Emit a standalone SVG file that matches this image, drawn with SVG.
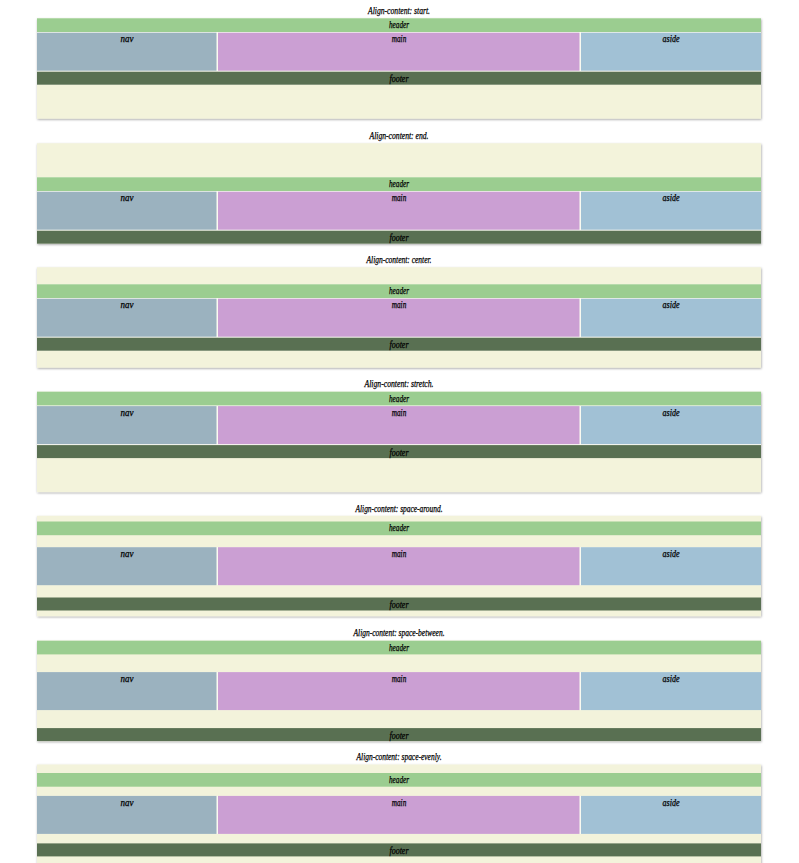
<svg xmlns="http://www.w3.org/2000/svg" width="799" height="863" viewBox="0 0 799 863">
  <defs>
    <filter id="shadow" x="-5%" y="-20%" width="110%" height="140%">
      <feDropShadow dx="0.5" dy="1" stdDeviation="1.3" flood-color="#000" flood-opacity="0.35"/>
    </filter>
    <style>
      .box { fill: #f3f3db; filter: url(#shadow); }
      .seam { fill: #fafaf1; }
      .hdr { fill: #9bcd90; }
      .nav { fill: #9bb2bf; }
      .main { fill: #cb9fd3; }
      .aside { fill: #a1c1d5; }
      .ftr { fill: #597052; }
      text { font-family: "Liberation Serif", "DejaVu Serif", serif; font-style: italic; font-size: 9.5px; fill: #000; stroke: #000; stroke-width: 0.25px; text-anchor: middle; transform: translate(0px, 1.5px); }
      .title { font-size: 10px; }
    </style>
  </defs>
  <rect width="799" height="863" fill="#ffffff"/>

  <!-- panel: start -->
  <g id="panel-start" transform="translate(0,18.3)">
    <text class="title" x="399" y="-5.8" textLength="62" lengthAdjust="spacingAndGlyphs">Align-content: start.</text>
    <rect class="box" x="37" y="0" width="724" height="100.4"/>
    <rect class="seam" x="37" y="0" width="724" height="66.4"/>
    <g id="start-header"><rect class="hdr" x="37" y="0" width="724" height="13.7"/><text x="399" y="8.4" textLength="20" lengthAdjust="spacingAndGlyphs">header</text></g>
    <g id="start-nav"><rect class="nav" x="37" y="14.4" width="179.5" height="38"/><text x="127" y="22.7" textLength="13" lengthAdjust="spacingAndGlyphs">nav</text></g>
    <g id="start-main"><rect class="main" x="218" y="14.4" width="361.5" height="38"/><text x="399" y="22.7" textLength="14.5" lengthAdjust="spacingAndGlyphs">main</text></g>
    <g id="start-aside"><rect class="aside" x="581" y="14.4" width="180" height="38"/><text x="671" y="22.7" textLength="17" lengthAdjust="spacingAndGlyphs">aside</text></g>
    <g id="start-footer"><rect class="ftr" x="37" y="53.4" width="724" height="13"/><text x="399" y="62.4" textLength="19" lengthAdjust="spacingAndGlyphs">footer</text></g>
  </g>

  <!-- panel: end -->
  <g id="panel-end" transform="translate(0,143.3)">
    <text class="title" x="399" y="-5.8" textLength="59" lengthAdjust="spacingAndGlyphs">Align-content: end.</text>
    <rect class="box" x="37" y="0" width="724" height="100.4"/>
    <rect class="seam" x="37" y="34" width="724" height="66.4"/>
    <g id="end-header"><rect class="hdr" x="37" y="34" width="724" height="13.7"/><text x="399" y="42.4" textLength="20" lengthAdjust="spacingAndGlyphs">header</text></g>
    <g id="end-nav"><rect class="nav" x="37" y="48.4" width="179.5" height="38"/><text x="127" y="56.7" textLength="13" lengthAdjust="spacingAndGlyphs">nav</text></g>
    <g id="end-main"><rect class="main" x="218" y="48.4" width="361.5" height="38"/><text x="399" y="56.7" textLength="14.5" lengthAdjust="spacingAndGlyphs">main</text></g>
    <g id="end-aside"><rect class="aside" x="581" y="48.4" width="180" height="38"/><text x="671" y="56.7" textLength="17" lengthAdjust="spacingAndGlyphs">aside</text></g>
    <g id="end-footer"><rect class="ftr" x="37" y="87.4" width="724" height="13"/><text x="399" y="96.4" textLength="19" lengthAdjust="spacingAndGlyphs">footer</text></g>
  </g>

  <!-- panel: center -->
  <g id="panel-center" transform="translate(0,267.3)">
    <text class="title" x="399" y="-5.8" textLength="65" lengthAdjust="spacingAndGlyphs">Align-content: center.</text>
    <rect class="box" x="37" y="0" width="724" height="100.4"/>
    <rect class="seam" x="37" y="17" width="724" height="66.4"/>
    <g id="center-header"><rect class="hdr" x="37" y="17" width="724" height="13.7"/><text x="399" y="25.4" textLength="20" lengthAdjust="spacingAndGlyphs">header</text></g>
    <g id="center-nav"><rect class="nav" x="37" y="31.4" width="179.5" height="38"/><text x="127" y="39.7" textLength="13" lengthAdjust="spacingAndGlyphs">nav</text></g>
    <g id="center-main"><rect class="main" x="218" y="31.4" width="361.5" height="38"/><text x="399" y="39.7" textLength="14.5" lengthAdjust="spacingAndGlyphs">main</text></g>
    <g id="center-aside"><rect class="aside" x="581" y="31.4" width="180" height="38"/><text x="671" y="39.7" textLength="17" lengthAdjust="spacingAndGlyphs">aside</text></g>
    <g id="center-footer"><rect class="ftr" x="37" y="70.4" width="724" height="13"/><text x="399" y="79.4" textLength="19" lengthAdjust="spacingAndGlyphs">footer</text></g>
  </g>

  <!-- panel: stretch -->
  <g id="panel-stretch" transform="translate(0,391.7)">
    <text class="title" x="399" y="-5.8" textLength="69" lengthAdjust="spacingAndGlyphs">Align-content: stretch.</text>
    <rect class="box" x="37" y="0" width="724" height="100.4"/>
    <rect class="seam" x="37" y="0" width="724" height="66.4"/>
    <g id="stretch-header"><rect class="hdr" x="37" y="0" width="724" height="13.7"/><text x="399" y="8.4" textLength="20" lengthAdjust="spacingAndGlyphs">header</text></g>
    <g id="stretch-nav"><rect class="nav" x="37" y="14.4" width="179.5" height="38"/><text x="127" y="22.7" textLength="13" lengthAdjust="spacingAndGlyphs">nav</text></g>
    <g id="stretch-main"><rect class="main" x="218" y="14.4" width="361.5" height="38"/><text x="399" y="22.7" textLength="14.5" lengthAdjust="spacingAndGlyphs">main</text></g>
    <g id="stretch-aside"><rect class="aside" x="581" y="14.4" width="180" height="38"/><text x="671" y="22.7" textLength="17" lengthAdjust="spacingAndGlyphs">aside</text></g>
    <g id="stretch-footer"><rect class="ftr" x="37" y="53.4" width="724" height="13"/><text x="399" y="62.4" textLength="19" lengthAdjust="spacingAndGlyphs">footer</text></g>
  </g>

  <!-- panel: space-around -->
  <g id="panel-space-around" transform="translate(0,515.8)">
    <text class="title" x="399" y="-5.8" textLength="87" lengthAdjust="spacingAndGlyphs">Align-content: space-around.</text>
    <rect class="box" x="37" y="0" width="724" height="100.4"/>
    <rect class="seam" x="37" y="31.4" width="724" height="38"/>
    <g id="around-header"><rect class="hdr" x="37" y="5.7" width="724" height="13.7"/><text x="399" y="14.1" textLength="20" lengthAdjust="spacingAndGlyphs">header</text></g>
    <g id="around-nav"><rect class="nav" x="37" y="31.4" width="179.5" height="38"/><text x="127" y="39.7" textLength="13" lengthAdjust="spacingAndGlyphs">nav</text></g>
    <g id="around-main"><rect class="main" x="218" y="31.4" width="361.5" height="38"/><text x="399" y="39.7" textLength="14.5" lengthAdjust="spacingAndGlyphs">main</text></g>
    <g id="around-aside"><rect class="aside" x="581" y="31.4" width="180" height="38"/><text x="671" y="39.7" textLength="17" lengthAdjust="spacingAndGlyphs">aside</text></g>
    <g id="around-footer"><rect class="ftr" x="37" y="81.7" width="724" height="13"/><text x="399" y="90.7" textLength="19" lengthAdjust="spacingAndGlyphs">footer</text></g>
  </g>

  <!-- panel: space-between -->
  <g id="panel-space-between" transform="translate(0,640.7)">
    <text class="title" x="399" y="-5.8" textLength="91" lengthAdjust="spacingAndGlyphs">Align-content: space-between.</text>
    <rect class="box" x="37" y="0" width="724" height="100.4"/>
    <rect class="seam" x="37" y="31.4" width="724" height="38"/>
    <g id="between-header"><rect class="hdr" x="37" y="0" width="724" height="13.7"/><text x="399" y="8.4" textLength="20" lengthAdjust="spacingAndGlyphs">header</text></g>
    <g id="between-nav"><rect class="nav" x="37" y="31.4" width="179.5" height="38"/><text x="127" y="39.7" textLength="13" lengthAdjust="spacingAndGlyphs">nav</text></g>
    <g id="between-main"><rect class="main" x="218" y="31.4" width="361.5" height="38"/><text x="399" y="39.7" textLength="14.5" lengthAdjust="spacingAndGlyphs">main</text></g>
    <g id="between-aside"><rect class="aside" x="581" y="31.4" width="180" height="38"/><text x="671" y="39.7" textLength="17" lengthAdjust="spacingAndGlyphs">aside</text></g>
    <g id="between-footer"><rect class="ftr" x="37" y="87.4" width="724" height="13"/><text x="399" y="96.4" textLength="19" lengthAdjust="spacingAndGlyphs">footer</text></g>
  </g>

  <!-- panel: space-evenly -->
  <g id="panel-space-evenly" transform="translate(0,764.5)">
    <text class="title" x="399" y="-5.8" textLength="85" lengthAdjust="spacingAndGlyphs">Align-content: space-evenly.</text>
    <rect class="box" x="37" y="0" width="724" height="100.4"/>
    <rect class="seam" x="37" y="31.4" width="724" height="38"/>
    <g id="evenly-header"><rect class="hdr" x="37" y="8.5" width="724" height="13.7"/><text x="399" y="16.9" textLength="20" lengthAdjust="spacingAndGlyphs">header</text></g>
    <g id="evenly-nav"><rect class="nav" x="37" y="31.4" width="179.5" height="38"/><text x="127" y="39.7" textLength="13" lengthAdjust="spacingAndGlyphs">nav</text></g>
    <g id="evenly-main"><rect class="main" x="218" y="31.4" width="361.5" height="38"/><text x="399" y="39.7" textLength="14.5" lengthAdjust="spacingAndGlyphs">main</text></g>
    <g id="evenly-aside"><rect class="aside" x="581" y="31.4" width="180" height="38"/><text x="671" y="39.7" textLength="17" lengthAdjust="spacingAndGlyphs">aside</text></g>
    <g id="evenly-footer"><rect class="ftr" x="37" y="78.9" width="724" height="13"/><text x="399" y="87.9" textLength="19" lengthAdjust="spacingAndGlyphs">footer</text></g>
  </g>
</svg>
